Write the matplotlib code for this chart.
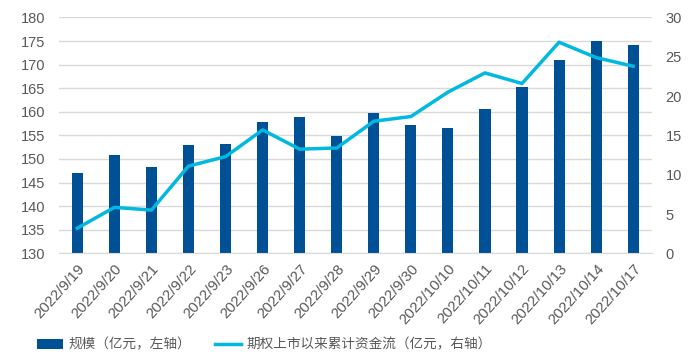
import matplotlib.pyplot as plt
import numpy as np

plt.rcParams['font.family'] = ['Liberation Sans', 'Noto Sans CJK SC', 'DejaVu Sans']

dates = ['2022/9/19', '2022/9/20', '2022/9/21', '2022/9/22', '2022/9/23', '2022/9/26',
         '2022/9/27', '2022/9/28', '2022/9/29', '2022/9/30', '2022/10/10', '2022/10/11',
         '2022/10/12', '2022/10/13', '2022/10/14', '2022/10/17']
scale = [147.0, 150.8, 148.3, 152.9, 153.1, 157.8, 158.8, 154.9,
         159.7, 157.2, 156.5, 160.7, 165.2, 171.0, 175.1, 174.2]
flow = [3.2, 5.85, 5.5, 11.1, 12.3, 15.7, 13.25, 13.4,
        16.8, 17.4, 20.5, 22.95, 21.6, 26.85, 24.9, 23.8]

bar_color = '#005096'
line_color = '#00B8E0'
tick_color = '#595959'

fig = plt.figure(figsize=(7, 3.64), dpi=100)
ax = fig.add_axes([0.084, 0.304, 0.847, 0.648])
ax2 = ax.twinx()

x = np.arange(len(dates))
bars = ax.bar(x, [v - 130 for v in scale], bottom=130, width=0.3, color=bar_color, zorder=2)
line, = ax2.plot(x, flow, color=line_color, lw=2.5, zorder=3)

ax.set_ylim(130, 180)
ax.set_yticks(range(130, 181, 5))
ax2.set_ylim(0, 30)
ax2.set_yticks(range(0, 31, 5))
ax.set_xlim(-0.5, len(dates) - 0.5)
ax.set_xticks(x)
ax.set_xticklabels(dates, rotation=48, ha='right', rotation_mode='anchor')

ax.grid(axis='y', color='#D9D9D9', lw=1, zorder=0)
ax.set_axisbelow(True)
for a in (ax, ax2):
    for s in a.spines.values():
        s.set_visible(False)
    a.tick_params(length=0, colors=tick_color, labelsize=10.5)
ax.spines['bottom'].set_visible(True)
ax.spines['bottom'].set_color('#D9D9D9')
ax.tick_params(axis='x', labelsize=10.8, pad=6)
ax.tick_params(axis='y', pad=10)
ax2.tick_params(axis='y', pad=10)

fig.legend([bars, line], ['规模（亿元，左轴）', '期权上市以来累计资金流（亿元，右轴）'],
           loc='lower left', bbox_to_anchor=(0.035, 0.0), ncol=2, frameon=False,
           prop={'family': ['Noto Sans CJK SC'], 'size': 9.8}, labelcolor=tick_color,
           handlelength=1.9, columnspacing=1.8, handletextpad=0.4)

fig.savefig('out.png', dpi=100)
